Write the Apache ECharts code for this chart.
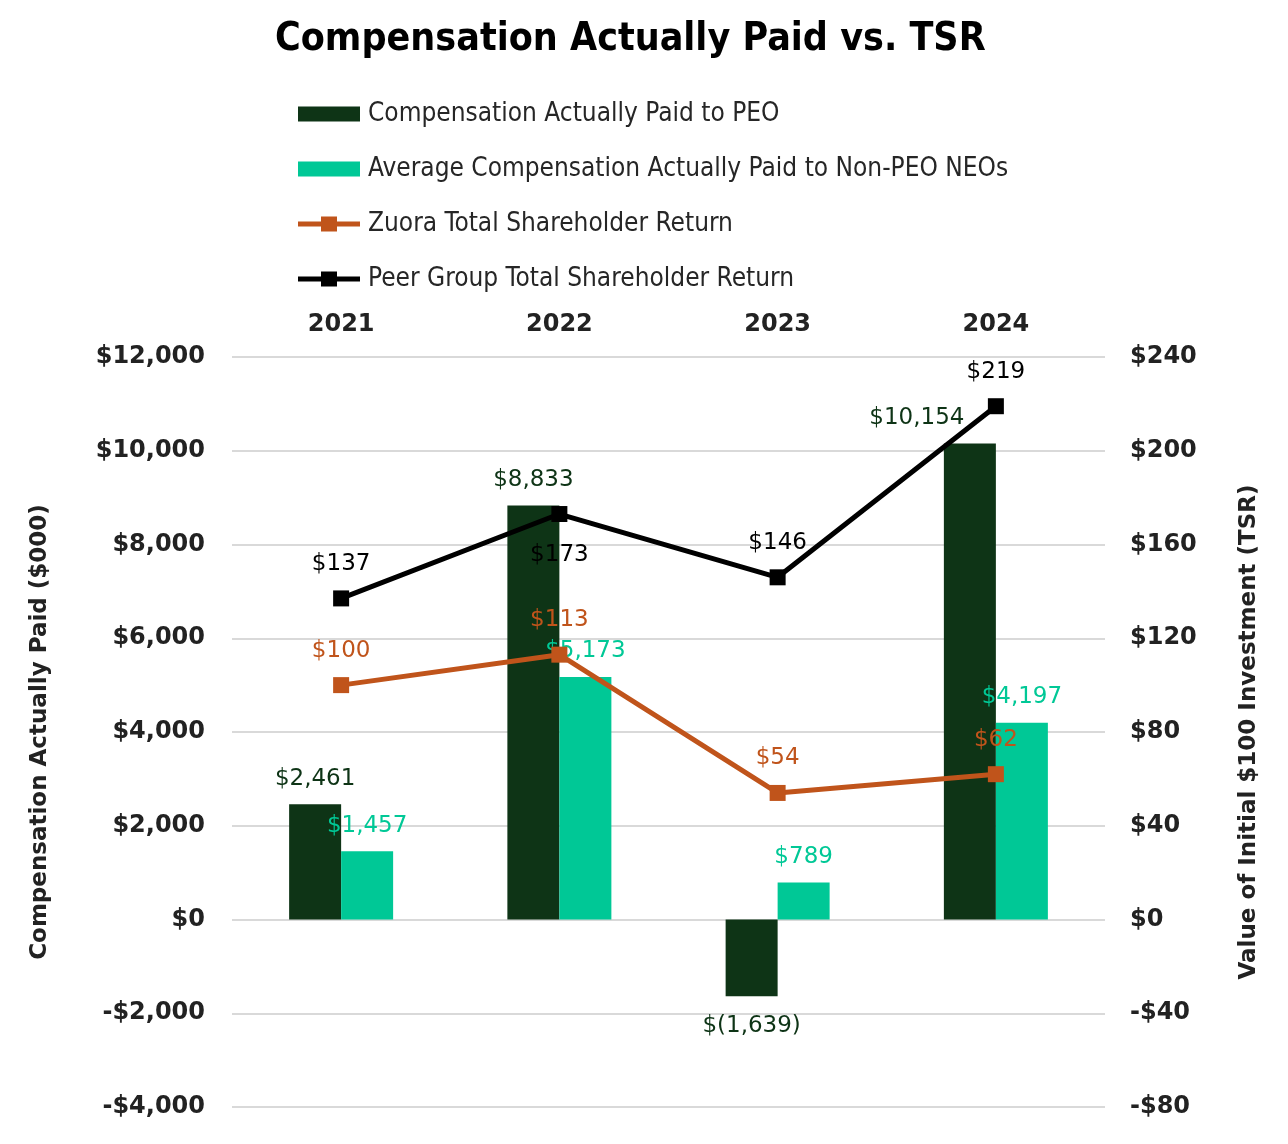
<!DOCTYPE html>
<html><head><meta charset="utf-8">
<script src="https://cdn.jsdelivr.net/npm/echarts@6/dist/echarts.min.js"></script>
<style>html,body{margin:0;padding:0;background:#fff}#c{width:1288px;height:1144px}</style>
</head><body><div id="c"></div>
<script>
const years = ['2021','2022','2023','2024'];
const peoCAP = [2461, 8833, -1639, 10154];
const neoCAP = [1457, 5173, 789, 4197];
const zuoraTSR = [100, 113, 54, 62];
const peerTSR = [137, 173, 146, 219];
const leftTicks = {min:-4000, max:12000, interval:2000};
const rightTicks = {min:-80, max:240, interval:40};

const C_PEO = '#0E3416', C_NEO = '#00C896', C_ZU = '#C0541B', C_PEER = '#000000';
const money = v => (v < 0 ? '$(' + Math.abs(v).toLocaleString('en-US') + ')' : '$' + v.toLocaleString('en-US'));
const axisMoney = v => (v < 0 ? '-$' + Math.abs(v).toLocaleString('en-US') : '$' + v.toLocaleString('en-US'));
const lblFont = {fontFamily:'DejaVu Sans', fontSize:23};
const COND = "'DejaVu Sans Condensed', 'Liberation Sans', sans-serif";
const lineIcon = 'path://M0,6 L23,6 L23,0 L39,0 L39,6 L62,6 L62,12 L39,12 L39,18 L23,18 L23,12 L0,12 Z';

const chart = echarts.init(document.getElementById('c'), null, {renderer:'canvas'});
chart.setOption({
  animation:false,
  backgroundColor:'#fff',
  title:{text:'Compensation Actually Paid vs. TSR', left:270, top:15,
    textStyle:{fontFamily:COND, fontWeight:'bold', fontSize:39, color:'#000'}},
  legend:{orient:'vertical', left:298, top:100, padding:0, itemWidth:62, itemHeight:15, itemGap:27,
    symbolKeepAspect:false,
    textStyle:{fontFamily:COND, fontSize:26, color:'#262626', lineHeight:28, padding:[0,0,0,3]},
    data:[
      {name:'Compensation Actually Paid to PEO', icon:'rect'},
      {name:'Average Compensation Actually Paid to Non-PEO NEOs', icon:'rect'},
      {name:'Zuora Total Shareholder Return', icon:lineIcon},
      {name:'Peer Group Total Shareholder Return', icon:lineIcon}]},
  grid:{left:232, right:183, top:357, bottom:37},
  xAxis:{type:'category', data:years, position:'top', boundaryGap:true,
    axisLine:{show:false}, axisTick:{show:false},
    axisLabel:{fontFamily:'DejaVu Sans', fontWeight:'bold', fontSize:24, color:'#222', margin:20}},
  yAxis:[
    {type:'value', min:leftTicks.min, max:leftTicks.max, interval:leftTicks.interval,
     name:'Compensation Actually Paid ($000)', nameLocation:'middle', nameGap:180, nameRotate:90,
     nameTextStyle:{fontFamily:'DejaVu Sans', fontWeight:'bold', fontSize:23, color:'#222'},
     axisLabel:{formatter:axisMoney, fontFamily:'DejaVu Sans', fontWeight:'bold', fontSize:24, color:'#222', margin:27},
     splitLine:{lineStyle:{color:'#d9d9d9', width:2}}, axisLine:{show:false}, axisTick:{show:false}},
    {type:'value', min:rightTicks.min, max:rightTicks.max, interval:rightTicks.interval,
     name:'Value of Initial $100 Investment (TSR)', nameLocation:'middle', nameGap:133, nameRotate:90,
     nameTextStyle:{fontFamily:'DejaVu Sans', fontWeight:'bold', fontSize:23, color:'#222'},
     axisLabel:{formatter:axisMoney, fontFamily:'DejaVu Sans', fontWeight:'bold', fontSize:24, color:'#222', margin:25},
     splitLine:{show:false}, axisLine:{show:false}, axisTick:{show:false}}
  ],
  series:[
    {name:'Compensation Actually Paid to PEO', type:'bar', barWidth:52, barGap:'0%',
     itemStyle:{color:C_PEO},
     data: peoCAP.map((v,i)=>({value:v, label: i===3 ? {offset:[-53,0]} : (v<0 ? {position:'bottom', distance:18} : {})})),
     label:{show:true, position:'top', distance:14, formatter:p=>money(p.value), color:C_PEO, ...lblFont}},
    {name:'Average Compensation Actually Paid to Non-PEO NEOs', type:'bar', barWidth:52, barGap:'0%',
     itemStyle:{color:C_NEO},
     data: neoCAP,
     label:{show:true, position:'top', distance:14, formatter:p=>money(p.value), color:C_NEO, ...lblFont}},
    {name:'Zuora Total Shareholder Return', type:'line', yAxisIndex:1, z:5,
     symbol:'rect', symbolSize:16, showAllSymbol:true,
     lineStyle:{color:C_ZU, width:5}, itemStyle:{color:C_ZU},
     data: zuoraTSR,
     label:{show:true, position:'top', distance:15, formatter:p=>'$'+p.value, color:C_ZU, ...lblFont}},
    {name:'Peer Group Total Shareholder Return', type:'line', yAxisIndex:1, z:6,
     symbol:'rect', symbolSize:16, showAllSymbol:true,
     lineStyle:{color:C_PEER, width:5}, itemStyle:{color:C_PEER},
     data: peerTSR.map((v,i)=>({value:v, label: i===1 ? {position:'bottom', distance:21} : {}})),
     label:{show:true, position:'top', distance:15, formatter:p=>'$'+p.value, color:C_PEER, ...lblFont}}
  ]
});
</script></body></html>
